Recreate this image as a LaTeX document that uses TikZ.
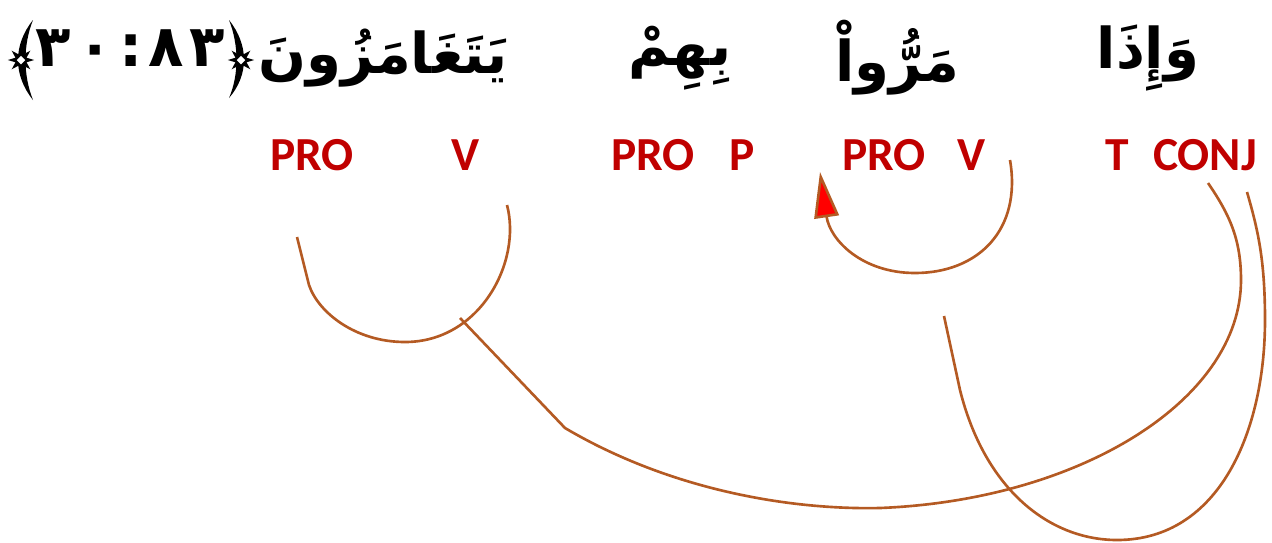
\documentclass[tikz,border=0pt]{standalone}
\usepackage{fontspec}
\usepackage{tikz}
\usetikzlibrary{arrows.meta, shapes.geometric}
\TeXXeTstate=1
\newfontfamily\arabicfont[Script=Arabic]{DejaVu Sans}
\newfontfamily\tagfont{Carlito}
\definecolor{tagred}{RGB}{192, 0, 0}
\definecolor{link}{RGB}{180, 90, 35}
\definecolor{tipred}{RGB}{255, 0, 0}

\begin{document}
\begin{tikzpicture}[
   x=0.02cm, y=-0.02cm,
   word/.style={font=\arabicfont\bfseries\fontsize{32}{40}\selectfont, inner sep=0},
   refdigit/.style={font=\arabicfont\bfseries\fontsize{33}{38}\selectfont, inner sep=0,
                    anchor=base},
   ornament/.style={star, star points=8, star point ratio=2.2, fill=black, inner sep=0,
                    minimum size=15pt},
   hole/.style={diamond, fill=white, inner sep=0, minimum size=5pt},
   tag/.style={text=tagred, font=\tagfont\bfseries\fontsize{27}{30}\selectfont,
               inner sep=0, anchor=base},
   link/.style={draw=link, line width=1.5pt},
   linkarrow/.style={link, -{Triangle[length=26pt, width=14pt, fill=tipred]}}
  ]

  \useasboundingbox (0, 0) rectangle (1272, 542);

  % Words
  \node (wa) at (1148, 58) [word] {\beginR وَإِذَا\endR};
  \node (wb) at (897, 58) [word] {\beginR مَرُّواْ\endR};
  \node (wc) at (680, 58) [word] {\beginR بِهِمْ\endR};
  \node (wd) at (383, 58) [word] {\beginR يَتَغَامَزُونَ\endR};

  % Verse number between ornate brackets
  \foreach \x/\g [count=\i] in {53/٣, 95/٠, 131/:, 166/٨, 207/٣} {
    \node (d\i) at (\x, 66) [refdigit] {\g};
  }
  \fill (33, 20) .. controls (13, 45) and (13, 75) .. (33, 100)
        .. controls (23, 75) and (23, 45) .. (33, 20);
  \fill (229, 20) .. controls (249, 45) and (249, 75) .. (229, 98)
        .. controls (239, 75) and (239, 45) .. (229, 20);
  \node (lorn) at (21, 60) [ornament] {};
  \node (rorn) at (241, 60) [ornament] {};
  \node at (lorn) [hole] {};
  \node at (rorn) [hole] {};

  % Tags
  \node (conj) at (1205, 170) [tag] {CONJ};
  \node (tt) at (1117, 170) [tag] {T};
  \node (vb) at (972, 170) [tag] {V};
  \node (prob) at (884, 170) [tag] {PRO};
  \node (pc) at (742, 170) [tag] {P};
  \node (proc) at (653, 170) [tag] {PRO};
  \node (vd) at (466, 170) [tag] {V};
  \node (prod) at (312, 170) [tag] {PRO};

  % Link ends
  \coordinate (vbS) at (1010, 160);
  \coordinate (vbE) at (820, 172);
  \coordinate (vdS) at (507, 205);
  \coordinate (vdE) at (297, 237);
  \coordinate (conjS) at (460, 318);
  \coordinate (conjE) at (1208, 183);
  \coordinate (ttS) at (944, 316);
  \coordinate (ttE) at (1247, 192);

  \draw[linkarrow] (vbS) .. controls (1022, 230) and (978, 273) .. (915, 273)
                         .. controls (862, 273) and (830, 240) .. (vbE);

  \draw[link] (vdS) .. controls (522, 262) and (480, 342) .. (405, 342)
                    .. controls (355, 342) and (318, 312) .. (309, 285) -- (vdE);

  \draw[link] (conjS) -- (565, 428) .. controls (670, 490) and (790, 510) .. (880, 508)
                      .. controls (1080, 500) and (1241, 400) .. (1241, 280)
                      .. controls (1241, 240) and (1230, 215) .. (conjE);

  \draw[link] (ttS) -- (960, 390) .. controls (985, 490) and (1050, 540) .. (1117, 540)
                    .. controls (1220, 540) and (1265, 430) .. (1265, 320)
                    .. controls (1265, 260) and (1258, 230) .. (ttE);

\end{tikzpicture}
\end{document}
